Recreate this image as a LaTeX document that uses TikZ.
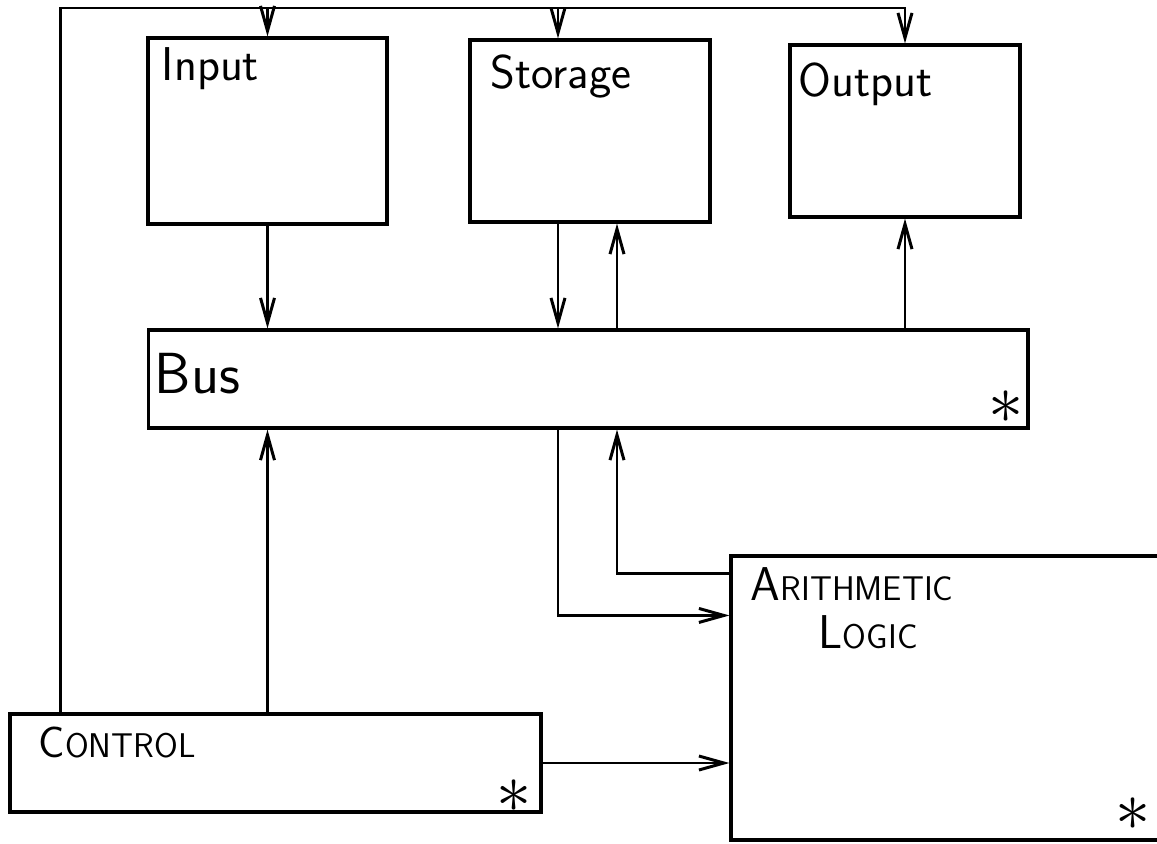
\documentclass[tikz,border=0pt]{standalone}
\usetikzlibrary{positioning,arrows.meta,calc}

\newcommand{\capsmall}[2]{#1{\fontsize{19.5}{22}\selectfont #2}}
\newcommand{\bigast}{\scalebox{4}{$\ast$}}

\begin{document}
\begin{tikzpicture}[
    x=0.02cm, y=-0.02cm,
    blockbox/.style={rectangle, draw, line width=1.8pt, inner sep=0pt},
    lbl/.style={anchor=base west, inner sep=0pt, font=\sffamily\fontsize{27}{30}\selectfont},
    astx/.style={inner sep=0pt},
    wire/.style={line width=1.2pt},
    >={Straight Barb[length=0.5cm,width=0.28cm,line width=1.7pt]}
]
\clip (0,0) rectangle (1157,843);

% units
\node[blockbox, minimum width=4.78cm, minimum height=3.72cm] (input) at (267.5,131) {};
\node[blockbox, minimum width=4.8cm, minimum height=3.64cm] (storage) at (590,131) {};
\node[blockbox, minimum width=4.6cm, minimum height=3.44cm] (output) at (905,131) {};
\node[blockbox, minimum width=17.6cm, minimum height=1.96cm] (bus) at (588,379) {};
\node[blockbox, minimum width=10.62cm, minimum height=1.96cm] (control) at (275.5,763) {};
\node[blockbox, minimum width=8.98cm, minimum height=5.68cm] (alu) at (955.5,698) {};

% labels
\node[lbl] (inputtxt) at ([shift={(15,44)}]input.north west) {Input};
\node[lbl] (storagetxt) at ([shift={(22,50)}]storage.north west) {Storage};
\node[lbl] (outputtxt) at ([shift={(10,53)}]output.north west) {Output};
\node[lbl, font=\sffamily\fontsize{33}{36}\selectfont] (bustxt) at ([shift={(8,65)}]bus.north west) {Bus};
\node[lbl, font=\sffamily\fontsize{25}{28}\selectfont] (controltxt) at ([shift={(30,45)}]control.north west) {\capsmall{C}{ONTROL}};
\node[lbl] (arithtxt) at ([shift={(21,46)}]alu.north west) {\capsmall{A}{RITHMETIC}};
\node[lbl] (logictxt) at ([shift={(89,94)}]alu.north west) {\capsmall{L}{OGIC}};

\node[astx] (busast) at ([shift={(-23,-22)}]bus.south east) {\bigast};
\node[astx] (controlast) at ([shift={(-28,-17)}]control.south east) {\bigast};
\node[astx] (aluast) at ([shift={(404,-27)}]alu.south west) {\bigast};

% helper points
\coordinate (top) at (0,8);
\coordinate (ctlup) at ([shift={(52,0)}]control.north west);
\coordinate (sdnTop) at ([shift={(-32,0)}]storage.north);
\coordinate (sdn) at ([shift={(-32,0)}]storage.south);
\coordinate (sup) at ([shift={(27,0)}]storage.south);
\coordinate (aluin) at ([shift={(0,61)}]alu.north west);
\coordinate (aluout) at ([shift={(0,19)}]alu.north west);

% control lines along the top
\draw[wire,->] (ctlup) |- (top -| output.north) -- (output.north);
\draw[wire,->] (top -| input.north) -- (input.north);
\draw[wire,->] (top -| sdnTop) -- (sdnTop);

% units to and from the bus
\draw[wire,->] (input.south) -- (input.south |- bus.north);
\draw[wire,->] (sdn) -- (sdn |- bus.north);
\draw[wire,->] (sup |- bus.north) -- (sup);
\draw[wire,->] (output.south |- bus.north) -- (output.south);
\draw[wire,->] (control.north -| input.south) -- (bus.south -| input.south);
\draw[wire,->] (bus.south -| sdn) |- (aluin);
\draw[wire,->] (aluout) -| (bus.south -| sup);
\draw[wire,->] (control.east) -- (control.east -| alu.west);

\end{tikzpicture}
\end{document}
